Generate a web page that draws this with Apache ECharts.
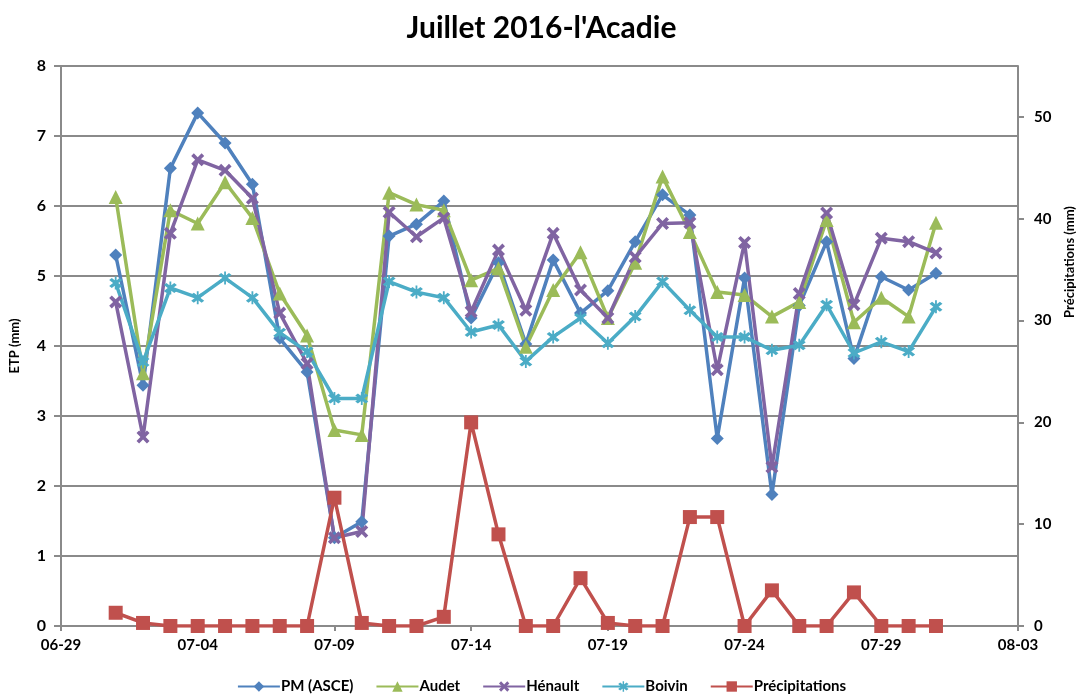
<!DOCTYPE html>
<html lang="fr">
<head>
    <meta charset="UTF-8">
    <title>Juillet 2016-l'Acadie</title>
    <script src="https://cdn.jsdelivr.net/npm/echarts@6/dist/echarts.min.js"></script>
    <style>
        * {
            margin: 0;
            padding: 0
        }

        html, body {
            width: 100%;
            height: 100%;
            background: #fff;
        }

        #main {
            width: 1083px;
            height: 697px;
        }
    </style>
</head>
<body>
<div id="main"></div>
<script>
    // jours de juillet 2016
    var dates = ['2016-07-01', '2016-07-02', '2016-07-03', '2016-07-04', '2016-07-05', '2016-07-06', '2016-07-07',
        '2016-07-08', '2016-07-09', '2016-07-10', '2016-07-11', '2016-07-12', '2016-07-13', '2016-07-14',
        '2016-07-15', '2016-07-16', '2016-07-17', '2016-07-18', '2016-07-19', '2016-07-20', '2016-07-21',
        '2016-07-22', '2016-07-23', '2016-07-24', '2016-07-25', '2016-07-26', '2016-07-27', '2016-07-28',
        '2016-07-29', '2016-07-30', '2016-07-31'];

    // ETP (mm)
    var pmAsce = [5.30, 3.44, 6.54, 7.33, 6.90, 6.31, 4.11, 3.63, 1.26, 1.49, 5.57, 5.74, 6.07, 4.40, 5.19,
        4.03, 5.23, 4.47, 4.79, 5.49, 6.16, 5.87, 2.68, 4.97, 1.88, 4.58, 5.49, 3.82, 4.99, 4.80, 5.04];
    var audet = [6.13, 3.61, 5.94, 5.75, 6.34, 5.83, 4.75, 4.15, 2.80, 2.73, 6.19, 6.02, 5.94, 4.94, 5.11,
        3.99, 4.80, 5.34, 4.40, 5.19, 6.42, 5.63, 4.77, 4.73, 4.42, 4.63, 5.80, 4.34, 4.69, 4.42, 5.76];
    var henault = [4.63, 2.70, 5.61, 6.66, 6.51, 6.11, 4.47, 3.75, 1.26, 1.35, 5.91, 5.56, 5.83, 4.49, 5.37,
        4.51, 5.61, 4.80, 4.40, 5.27, 5.75, 5.76, 3.66, 5.48, 2.27, 4.75, 5.90, 4.59, 5.54, 5.49, 5.33];
    var boivin = [4.90, 3.77, 4.83, 4.69, 4.97, 4.69, 4.19, 3.92, 3.25, 3.25, 4.92, 4.77, 4.69, 4.20, 4.30,
        3.78, 4.13, 4.40, 4.04, 4.42, 4.92, 4.51, 4.13, 4.13, 3.94, 4.01, 4.59, 3.90, 4.06, 3.92, 4.56];
    // Précipitations (mm)
    var precip = [1.3, 0.3, 0, 0, 0, 0, 0, 0, 12.6, 0.3, 0, 0, 0.9, 20.0, 9.0,
        0, 0, 4.7, 0.3, 0, 0, 10.7, 10.7, 0, 3.5, 0, 0, 3.3, 0, 0, 0];

    var leftTicks = [0, 1, 2, 3, 4, 5, 6, 7, 8];
    var rightTicks = [0, 10, 20, 30, 40, 50];

    var dayMs = 86400000;
    var origin = Date.UTC(2016, 5, 29); // 06-29

    function dayIndex(s) {
        var p = s.split('-');
        return (Date.UTC(+p[0], +p[1] - 1, +p[2]) - origin) / dayMs;
    }

    function pair(vals) {
        return dates.map(function (d, i) {
            return [dayIndex(d), vals[i]];
        });
    }

    function dayLabel(v) {
        var d = new Date(origin + v * dayMs);
        var m = d.getUTCMonth() + 1, j = d.getUTCDate();
        return (m < 10 ? '0' : '') + m + '-' + (j < 10 ? '0' : '') + j;
    }

    var font = 'Lato, "Open Sans", sans-serif';
    var gray = '#8a8a8a';
    var xShape = 'path://M2,0L5,3L8,0L10,2L7,5L10,8L8,10L5,7L2,10L0,8L3,5L0,2Z';
    var starShape = 'path://M2,0L5,3L8,0L10,2L7,5L10,8L8,10L5,7L2,10L0,8L3,5L0,2Z M4.3,-1.5L5.7,-1.5L5.7,11.5L4.3,11.5Z';

    function serie(name, vals, color, symbol, size, axis) {
        return {
            name: name,
            type: 'line',
            yAxisIndex: axis,
            data: pair(vals),
            symbol: symbol,
            symbolSize: size,
            showAllSymbol: true,
            lineStyle: {width: 3.5, color: color},
            itemStyle: {color: color},
            emphasis: {disabled: true}
        };
    }

    var myChart = echarts.init(document.getElementById('main'));

    var option = {
        animation: false,
        textStyle: {fontFamily: font},
        title: {
            text: "Juillet 2016-l'Acadie",
            left: 'center',
            top: 8,
            textStyle: {fontFamily: font, fontSize: 30, fontWeight: 'bold', color: '#000'}
        },
        legend: {
            bottom: -2,
            left: 'center',
            itemWidth: 42,
            itemHeight: 13,
            itemGap: 22,
            textStyle: {fontFamily: font, fontSize: 15, fontWeight: 'bold', color: '#000', padding: [0, 0, 0, -4]},
            data: ['PM (ASCE)', 'Audet', 'Hénault', 'Boivin', 'Précipitations']
        },
        grid: {
            left: 60,
            right: 65,
            top: 66,
            bottom: 71
        },
        xAxis: {
            type: 'value',
            min: 0,
            max: 35,
            interval: 5,
            axisLine: {lineStyle: {color: gray, width: 2}},
            axisTick: {show: true, length: 5, lineStyle: {color: gray, width: 2}},
            splitLine: {show: false},
            axisLabel: {
                formatter: dayLabel,
                margin: 12,
                fontSize: 15,
                fontWeight: 'bold',
                color: '#000',
                fontFamily: font
            }
        },
        yAxis: [
            {
                type: 'value',
                min: 0,
                max: 8,
                interval: 1,
                name: 'ETP (mm)',
                nameLocation: 'middle',
                nameGap: 40,
                nameTextStyle: {fontFamily: font, fontSize: 13, fontWeight: 'bold', color: '#000'},
                axisLine: {show: true, lineStyle: {color: gray, width: 2}},
                axisTick: {show: true, length: 7, lineStyle: {color: gray, width: 2}},
                splitLine: {show: true, lineStyle: {color: gray, width: 2}},
                axisLabel: {
                    customValues: leftTicks,
                    margin: 15,
                    fontSize: 16,
                    fontWeight: 'bold',
                    color: '#000',
                    fontFamily: font
                }
            },
            {
                type: 'value',
                min: 0,
                max: 55,
                interval: 10,
                position: 'right',
                axisLine: {show: true, lineStyle: {color: gray, width: 2}},
                axisTick: {show: true, length: 6, customValues: rightTicks, lineStyle: {color: gray, width: 2}},
                splitLine: {show: false},
                axisLabel: {
                    customValues: rightTicks,
                    margin: 16,
                    fontSize: 15,
                    fontWeight: 'bold',
                    color: '#000',
                    fontFamily: font
                }
            }
        ],
        graphic: [
            {
                type: 'text',
                x: 1070,
                y: 262,
                rotation: Math.PI / 2,
                style: {
                    text: 'Précipitations (mm)',
                    font: 'bold 13px ' + font,
                    fill: '#000',
                    align: 'center',
                    verticalAlign: 'middle'
                }
            }
        ],
        series: [
            serie('PM (ASCE)', pmAsce, '#4F81BD', 'diamond', 13, 0),
            serie('Audet', audet, '#9BBB59', 'triangle', 14, 0),
            serie('Hénault', henault, '#8064A2', xShape, 13, 0),
            serie('Boivin', boivin, '#4BACC6', starShape, 13, 0),
            serie('Précipitations', precip, '#C0504D', 'rect', 14, 1)
        ]
    };

    myChart.setOption(option);
</script>
</body>
</html>
